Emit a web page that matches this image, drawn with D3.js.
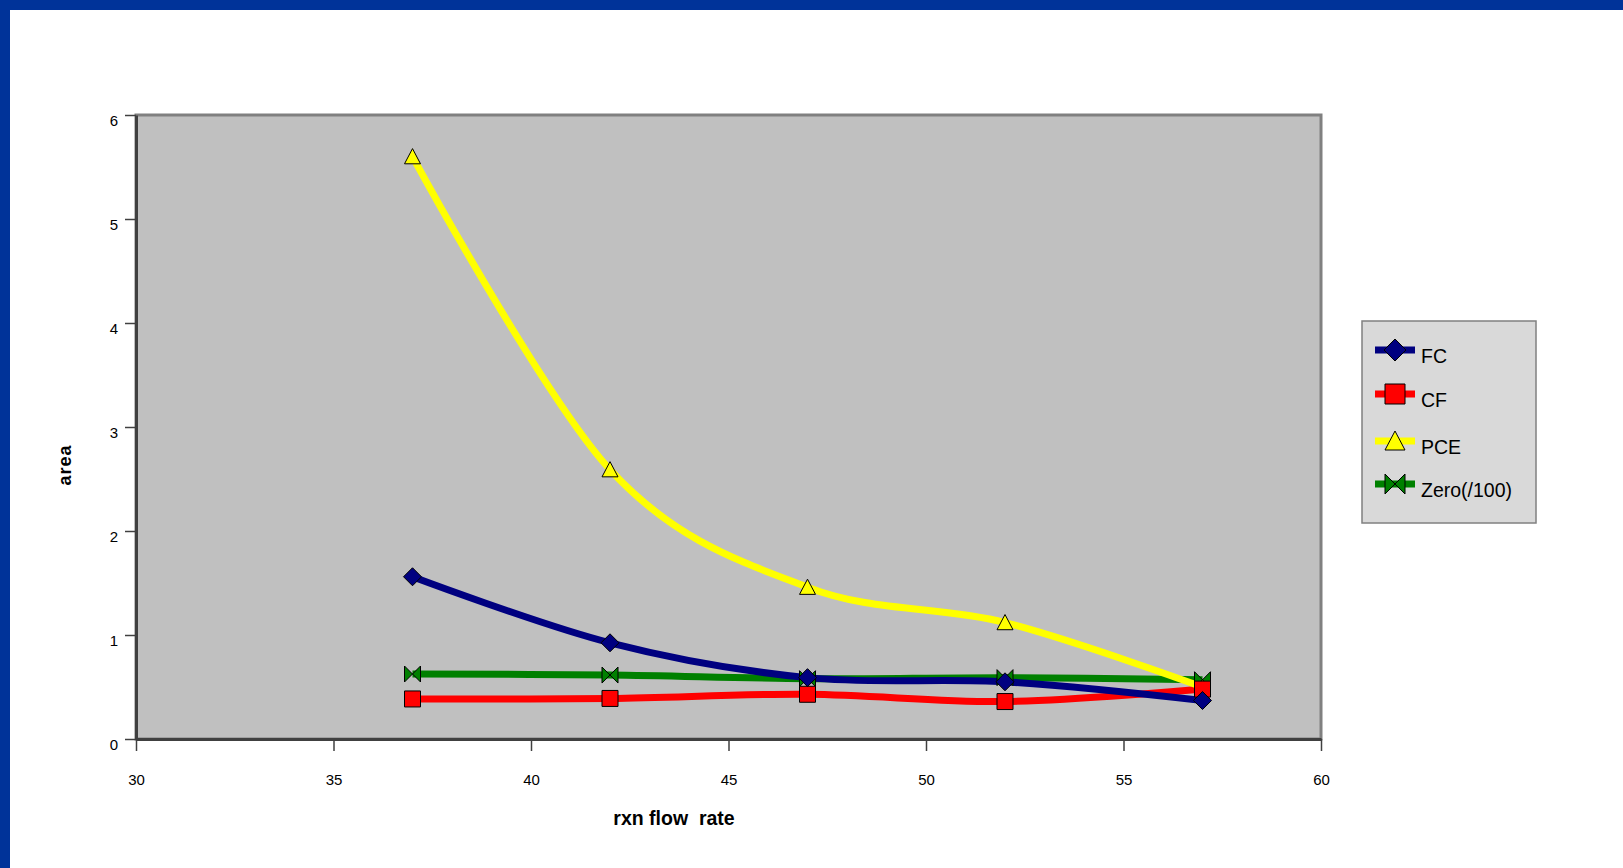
<!DOCTYPE html>
<html>
<head>
<meta charset="utf-8">
<script src="https://cdn.jsdelivr.net/npm/d3@7"></script>
<style>
  html, body { margin: 0; padding: 0; background: #ffffff; }
  svg { display: block; }
  text { font-family: "Liberation Sans", Arial, sans-serif; fill: #000; }
</style>
</head>
<body>
<svg id="chart" width="1623" height="868"></svg>
<script>
// Flow rate (x) and peak areas for each compound
const flowRates = [37, 42, 47, 52, 57];
const fcArea    = [1.56, 0.925, 0.59, 0.55, 0.37];
const cfArea    = [0.385, 0.39, 0.43, 0.36, 0.48];
const pceArea   = [5.6, 2.59, 1.46, 1.12, 0.5];
const zeroArea  = [0.625, 0.615, 0.58, 0.59, 0.57];

const seriesNames  = ["FC", "CF", "PCE", "Zero(/100)"];
const xTickValues  = [30, 35, 40, 45, 50, 55, 60];
const yTickValues  = [0, 1, 2, 3, 4, 5, 6];

const svg = d3.select("#chart");

// Frame: blue strips along the top and left edge
svg.append("rect").attr("x", 0).attr("y", 0).attr("width", 1623).attr("height", 10).attr("fill", "#003399");
svg.append("rect").attr("x", 0).attr("y", 0).attr("width", 10).attr("height", 868).attr("fill", "#003399");

const plot = { left: 136, right: 1321, top: 115, bottom: 739 };

const x = d3.scaleLinear().domain([30, 60]).range([plot.left, plot.right]);
const y = d3.scaleLinear().domain([0, 6]).range([plot.bottom, plot.top]);

// Plot area
svg.append("rect")
  .attr("x", plot.left).attr("y", plot.top)
  .attr("width", plot.right - plot.left).attr("height", plot.bottom - plot.top)
  .attr("fill", "#c0c0c0")
  .attr("stroke", "#808080").attr("stroke-width", 3);

// Axes
const xAxis = d3.axisBottom(x).tickValues(xTickValues).tickSize(12).tickSizeOuter(0).tickPadding(0).tickFormat(d3.format("d"));
const yAxis = d3.axisLeft(y).tickValues(yTickValues).tickSize(11).tickSizeOuter(0).tickPadding(0).tickFormat(d3.format("d"));

const gx = svg.append("g").attr("transform", `translate(0,${plot.bottom})`).call(xAxis);
const gy = svg.append("g").attr("transform", `translate(${plot.left},0)`).call(yAxis);

[gx, gy].forEach(g => {
  g.select(".domain").attr("stroke", "#404040").attr("stroke-width", 3);
  g.selectAll(".tick line").attr("stroke", "#404040").attr("stroke-width", 1.5);
  g.selectAll(".tick text").style("font-family", "'Liberation Sans', Arial, sans-serif")
    .attr("font-size", 15).attr("fill", "#000");
});
gx.selectAll(".tick text").attr("y", 41).attr("dy", "0.35em");
gy.selectAll(".tick text").attr("x", -18).attr("dy", "0.35em").attr("transform", "translate(0,5)");

// Axis titles
svg.append("text")
  .attr("transform", "translate(65,465) rotate(-90)")
  .attr("text-anchor", "middle").attr("dy", "0.35em")
  .attr("font-size", 18).attr("font-weight", "bold").attr("letter-spacing", 1)
  .text("area");
svg.append("text")
  .attr("x", 674).attr("y", 818).attr("dy", "0.35em")
  .attr("text-anchor", "middle")
  .attr("font-size", 19.5).attr("font-weight", "bold")
  .attr("xml:space", "preserve")
  .text("rxn flow  rate");

// Marker shapes centred on (0,0), s = half-size
const shapes = {
  diamond:  s => `M0,${-s}L${s},0L0,${s}L${-s},0Z`,
  square:   s => `M${-s},${-s}H${s}V${s}H${-s}Z`,
  triangle: s => `M0,${-s}L${s},${s * 0.9}H${-s}Z`,
  bowtie:   s => `M${-s},${-s}L0,0L${s},${-s}V${s}L0,0L${-s},${s}Z`
};

const series = [
  { name: seriesNames[0], values: fcArea,   color: "#000080", shape: "diamond" },
  { name: seriesNames[1], values: cfArea,   color: "#ff0000", shape: "square" },
  { name: seriesNames[2], values: pceArea,  color: "#ffff00", shape: "triangle" },
  { name: seriesNames[3], values: zeroArea, color: "#008000", shape: "bowtie" }
];

const line = d3.line()
  .x(d => x(d[0])).y(d => y(d[1]))
  .curve(d3.curveCardinal.tension(0));

const lineOrder = [3, 1, 0, 2];
lineOrder.forEach(i => {
  const s = series[i];
  svg.append("path")
    .datum(flowRates.map((f, j) => [f, s.values[j]]))
    .attr("d", line)
    .attr("fill", "none")
    .attr("stroke", s.color)
    .attr("stroke-width", 7)
    .attr("stroke-linejoin", "round");
});

const markerOrder = [2, 3, 1, 0];
const markerSize = { diamond: 9, square: 8, triangle: 8, bowtie: 8 };
markerOrder.forEach(i => {
  const s = series[i];
  svg.append("g").selectAll("path")
    .data(flowRates.map((f, j) => [f, s.values[j]]))
    .join("path")
    .attr("transform", d => `translate(${x(d[0])},${y(d[1])})`)
    .attr("d", shapes[s.shape](markerSize[s.shape]))
    .attr("fill", s.color)
    .attr("stroke", "#000").attr("stroke-width", 1);
});

// Legend
const legend = svg.append("g");
legend.append("rect")
  .attr("x", 1362).attr("y", 321).attr("width", 174).attr("height", 202)
  .attr("fill", "#d9d9d9").attr("stroke", "#808080").attr("stroke-width", 1.5);

const legendRows = [350, 394, 441, 484];
const legendMarker = { diamond: 11, square: 10, triangle: 10, bowtie: 10 };
series.forEach((s, i) => {
  const ly = legendRows[i];
  legend.append("line")
    .attr("x1", 1375).attr("x2", 1415).attr("y1", ly).attr("y2", ly)
    .attr("stroke", s.color).attr("stroke-width", 7);
  legend.append("path")
    .attr("transform", `translate(1395,${ly})`)
    .attr("d", shapes[s.shape](legendMarker[s.shape]))
    .attr("fill", s.color).attr("stroke", "#000").attr("stroke-width", 1);
  legend.append("text")
    .attr("x", 1421).attr("y", ly + 6).attr("dy", "0.35em")
    .attr("font-size", 19.5)
    .text(s.name);
});
</script>
</body>
</html>
